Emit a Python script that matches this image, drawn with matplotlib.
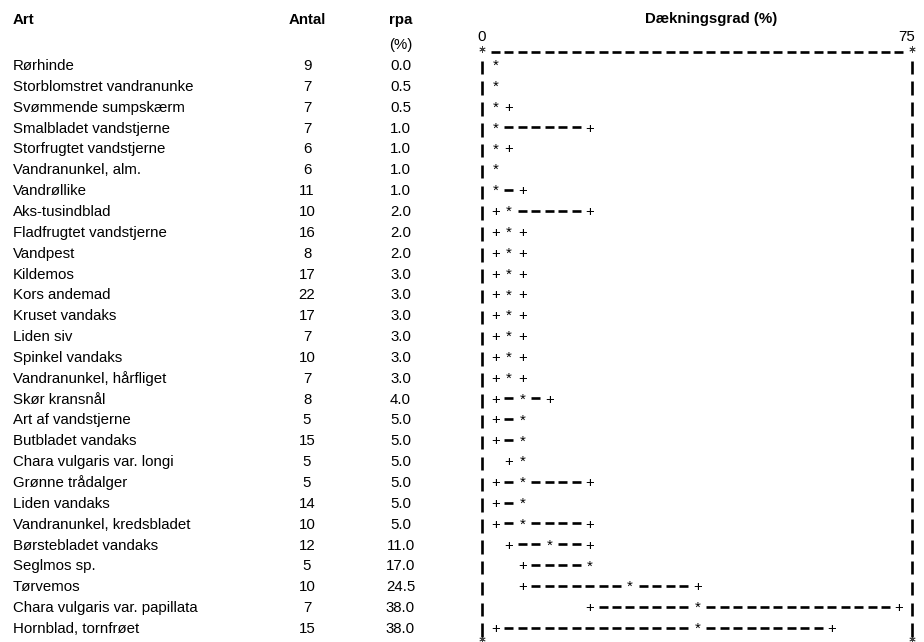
import numpy as np
import matplotlib
matplotlib.use("Agg")
import matplotlib.pyplot as plt

plt.rcParams['font.family'] = ['Liberation Sans', 'DejaVu Sans']

# Data: art, antal, rpa (median), nedre/oevre graense for daekningsgrad (%)
arter = ["Rørhinde", "Storblomstret vandranunke", "Svømmende sumpskærm",
         "Smalbladet vandstjerne", "Storfrugtet vandstjerne", "Vandranunkel, alm.",
         "Vandrøllike", "Aks-tusindblad", "Fladfrugtet vandstjerne", "Vandpest",
         "Kildemos", "Kors andemad", "Kruset vandaks", "Liden siv", "Spinkel vandaks",
         "Vandranunkel, hårfliget", "Skør kransnål", "Art af vandstjerne",
         "Butbladet vandaks", "Chara vulgaris var. longi", "Grønne trådalger",
         "Liden vandaks", "Vandranunkel, kredsbladet", "Børstebladet vandaks",
         "Seglmos sp.", "Tørvemos", "Chara vulgaris var. papillata", "Hornblad, tornfrøet"]
antal = [9, 7, 7, 7, 6, 6, 11, 10, 16, 8, 17, 22, 17, 7, 10, 7, 8, 5, 15, 5, 5, 14,
         10, 12, 5, 10, 7, 15]
rpa = [0.0, 0.5, 0.5, 1.0, 1.0, 1.0, 1.0, 2.0, 2.0, 2.0, 3.0, 3.0, 3.0, 3.0, 3.0, 3.0,
       4.0, 5.0, 5.0, 5.0, 5.0, 5.0, 5.0, 11.0, 17.0, 24.5, 38.0, 38.0]
nedre = [0.0, 0.0, 0.0, 0.0, 0.5, 0.5, 0.5, 0.5, 0.5, 0.5, 0.5, 0.5, 0.5, 0.5, 0.5, 0.5,
         0.5, 0.5, 0.5, 2.0, 0.5, 0.5, 0.5, 2.0, 5.0, 5.0, 17.5, 0.5]
oevre = [0.0, 1.0, 2.0, 17.5, 2.0, 1.0, 5.0, 17.5, 5.0, 5.0, 5.0, 5.0, 5.0, 5.0, 5.0, 5.0,
         10.0, 5.0, 5.0, 5.0, 17.5, 5.0, 17.5, 17.5, 17.0, 38.0, 75.0, 62.5]

xmin, xmax = 0, 75
step = 2.5  # en tegnkolonne = 2.5 %

# layout (pixels)
W, H = 924, 642
base0, row_h = 70.0, 20.85
left_px, right_px = 482.0, 912.4
fs = 10.8

fig = plt.figure(figsize=(W / 100, H / 100), dpi=100)
ylim = ((H - base0) / row_h, -base0 / row_h)

def r(px):
    return (px - base0) / row_h

# --- tabel ---
ax_t = fig.add_axes([0, 0, 1, 1])
ax_t.set_xlim(0, W)
ax_t.set_ylim(*ylim)
ax_t.axis("off")

ax_t.text(13, r(24), "Art", fontsize=fs, fontweight="bold", va="baseline")
ax_t.text(307, r(24), "Antal", fontsize=fs, fontweight="bold", va="baseline", ha="center")
ax_t.text(400.5, r(24), "rpa", fontsize=fs, fontweight="bold", va="baseline", ha="center")
ax_t.text(400.5, r(48.5), "(%)", fontsize=fs, va="baseline", ha="center")
ax_t.text(711, r(23), "Dækningsgrad (%)", fontsize=fs, fontweight="bold", va="baseline", ha="center")

for i, (navn, n, med) in enumerate(zip(arter, antal, rpa)):
    ax_t.text(13, i, navn, fontsize=fs, va="baseline")
    ax_t.text(307, i, str(n), fontsize=fs, va="baseline", ha="center")
    ax_t.text(400.5, i, f"{med:.1f}", fontsize=fs, va="baseline", ha="center")

# --- tegnplot ---
ax = fig.add_axes([0, 0, 1, 1])
upp = (xmax - xmin + 2 * step) / (right_px - left_px)
x0 = xmin - step - left_px * upp
ax.set_xlim(x0, x0 + W * upp)
ax.set_ylim(*ylim)
ax.axis("off")

ax.text(x0 + 481.5 * upp, r(40.5), str(xmin), fontsize=fs, va="baseline", ha="center")
ax.text(x0 + 907 * upp, r(40.5), str(xmax), fontsize=fs, va="baseline", ha="center")

def kol(v):
    return int(np.floor((v - xmin) / step + 0.5))

def kx(k):
    return xmin + k * step

dash_half = 4.5 * upp
dash_off = -5.3 / row_h
lw = 1.9
ncol = kol(xmax)

def dashes(y, ks):
    xs = np.array([kx(k) for k in ks])
    if len(xs):
        ax.hlines([y + dash_off] * len(xs), xs - dash_half, xs + dash_half,
                  colors="black", linewidth=lw, capstyle="butt")

# kant top og bund, hjoerner som smaa stjerner
top = -0.6
dashes(top, range(0, ncol + 1))
hjoerner = [kx(-1), kx(ncol + 1)]
for yp in (48.5, 638.5):
    ax.plot(hjoerner, [r(yp)] * 2, ls="none", marker=(6, 2, 0), ms=4.5, mew=0.6,
            color="0.25")

for i in range(len(arter)):
    klo, kmed, khi = kol(nedre[i]), kol(rpa[i]), kol(oevre[i])
    dashes(i, [k for k in range(klo + 1, khi) if k != kmed])
    for k in (klo, khi):
        if k != kmed:
            ax.text(kx(k), i, "+", fontsize=fs, va="baseline", ha="center")
    ax.text(kx(kmed), i, "*", fontsize=fs, va="baseline", ha="center")
    # sidekanter
    for k in (-1, ncol + 1):
        ax.vlines(kx(k), i - 9.5 / row_h, i + 4.0 / row_h, colors="black",
                  linewidth=lw, capstyle="butt")

fig.savefig("out.png", dpi=100)
